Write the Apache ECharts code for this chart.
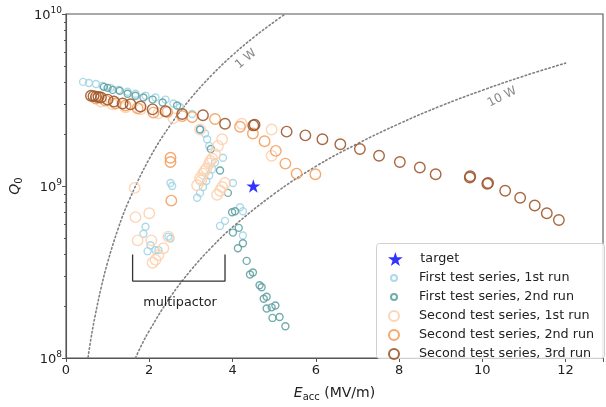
<!DOCTYPE html>
<html><head><meta charset="utf-8">
<script src="https://cdn.jsdelivr.net/npm/echarts@6/dist/echarts.min.js"></script>
<style>html,body{margin:0;padding:0;background:#fff}#c{width:606px;height:407px}</style>
</head><body><div id="c"></div><script>
// ---- data ----
const targetE = [4.5];
const targetQ = [1.0e9];

const s1r1E = [0.41,0.55,0.72,0.88,1.07,1.26,1.48,1.67,1.91,2.15,2.39,2.58,2.74,3.03,3.22,3.34,3.39,3.44,3.15,3.22,3.29,3.37,3.44,3.51,3.58,3.77,4.01,3.70,3.82,4.18,4.25,2.51,2.55,1.91,1.86,2.03,1.96,2.15,2.22,2.46,2.51,4.25];
const s1r1Q = [4.03e9,3.97e9,3.92e9,3.82e9,3.72e9,3.62e9,3.53e9,3.44e9,3.35e9,3.27e9,3.18e9,3.02e9,2.87e9,2.62e9,2.13e9,2.02e9,1.87e9,1.71e9,8.55e8,9.12e8,9.86e8,1.07e9,1.15e9,1.25e9,1.37e9,1.46e9,1.04e9,5.86e8,6.27e8,7.52e8,7.13e8,1.04e9,1.0e9,5.79e8,5.28e8,4.52e8,4.18e8,4.24e8,4.24e8,5.08e8,4.95e8,5.15e8];

const s1r2E = [0.91,1.00,1.12,1.29,1.48,1.67,1.86,2.08,2.32,2.67,3.22,3.48,3.70,3.89,3.99,4.06,4.01,4.15,4.25,4.13,4.34,4.42,4.49,4.65,4.70,4.75,4.82,4.82,4.94,5.03,4.96,5.13,5.27];
const s1r2Q = [3.77e9,3.72e9,3.62e9,3.58e9,3.44e9,3.35e9,3.27e9,3.18e9,3.06e9,2.94e9,2.13e9,1.64e9,1.23e9,9.12e8,7.03e8,7.13e8,5.36e8,5.71e8,4.65e8,4.35e8,3.67e8,3.06e8,3.14e8,2.65e8,2.58e8,2.21e8,2.27e8,1.94e8,1.97e8,2.02e8,1.71e8,1.73e8,1.53e8];

const s2r1E = [0.84,1.12,1.43,1.79,2.22,2.58,3.22,3.75,3.65,4.22,4.94,4.94,3.58,3.51,3.47,3.44,3.37,3.33,3.29,3.25,3.22,3.15,3.63,3.70,3.75,3.82,1.65,1.67,2.00,1.72,2.05,2.08,2.15,2.22,2.34,2.46];
const s2r1Q = [3.10e9,2.99e9,2.87e9,2.79e9,2.65e9,2.48e9,2.13e9,1.87e9,1.71e9,2.30e9,2.13e9,1.50e9,1.53e9,1.44e9,1.40e9,1.35e9,1.26e9,1.22e9,1.18e9,1.08e9,1.11e9,1.01e9,8.89e8,9.38e8,9.86e8,1.04e9,9.75e8,6.59e8,6.95e8,4.83e8,4.83e8,3.58e8,3.72e8,3.97e8,4.35e8,5.08e8];

const s2r2E = [0.72,0.95,1.19,1.43,1.72,2.10,2.43,2.79,3.03,3.58,4.18,4.49,4.77,5.04,5.27,5.54,5.99,2.51,2.51,2.53];
const s2r2Q = [3.22e9,3.14e9,3.02e9,2.94e9,2.83e9,2.67e9,2.69e9,2.55e9,2.52e9,2.45e9,2.21e9,2.02e9,1.82e9,1.60e9,1.35e9,1.18e9,1.17e9,1.46e9,1.38e9,8.22e8];

const s2r3E = [0.60,0.66,0.72,0.78,0.84,1.00,1.15,1.36,1.55,1.79,2.08,2.39,2.79,3.29,3.82,4.50,4.53,5.30,5.75,6.16,6.59,7.06,7.52,8.02,8.50,8.88,9.70,9.71,10.12,10.14,10.55,10.91,11.26,11.55,11.84];
const s2r3Q = [3.35e9,3.33e9,3.31e9,3.29e9,3.27e9,3.18e9,3.10e9,3.02e9,2.99e9,2.90e9,2.79e9,2.72e9,2.62e9,2.58e9,2.30e9,2.25e9,2.27e9,2.07e9,1.97e9,1.87e9,1.75e9,1.64e9,1.50e9,1.38e9,1.28e9,1.17e9,1.12e9,1.14e9,1.03e9,1.04e9,9.38e8,8.55e8,7.71e8,6.95e8,6.34e8];

// dissipated-power guide lines
const p1wE = [0.53,0.6,0.7,0.85,1.0,1.25,1.5,2.0,2.5,3.0,3.5,4.0,4.5,5.0,5.27];
const p1wQ = [1.01e8,1.30e8,1.76e8,2.6e8,3.6e8,5.63e8,8.1e8,1.44e9,2.25e9,3.24e9,4.41e9,5.76e9,7.29e9,9.0e9,1.0e10];
const p10wE = [1.67,1.8,2.0,2.5,3.0,3.5,4.0,5.0,6.0,7.0,8.0,9.0,10.0,11.0,12.0];
const p10wQ = [1.0e8,1.17e8,1.44e8,2.25e8,3.24e8,4.41e8,5.76e8,9.0e8,1.3e9,1.76e9,2.3e9,2.92e9,3.6e9,4.36e9,5.18e9];

// multipactor bracket
const bracketE = [1.6,1.6,3.82,3.82];
const bracketQ = [4.0e8,2.8e8,2.8e8,4.0e8];

const xTicks = [0,2,4,6,8,10,12];
const yMinor = [2e8,3e8,4e8,5e8,6e8,7e8,8e8,9e8,2e9,3e9,4e9,5e9,6e9,7e9,8e9,9e9];

const names = ['target','First test series, 1st run','First test series, 2nd run','Second test series, 1st run','Second test series, 2nd run','Second test series, 3rd run'];
// ---------------------------------------

const zip = (a,b) => a.map((v,i)=>[v,b[i]]);
const FONT = 'DejaVu Sans';
const STAR = 'path://M50,0 L61.8,36.2 L100,36.2 L69.1,58.8 L80.9,95.1 L50,72.7 L19.1,95.1 L30.9,58.8 L0,36.2 L38.2,36.2 Z';

function circ(name, E, Q, color, size, op) {
  return {
    type:'scatter', name, data: zip(E,Q), symbol:'circle', symbolSize:size, symbolKeepAspect:true,
    itemStyle:{color:'rgba(0,0,0,0)', borderColor:color, borderWidth:1.4, opacity:op},
    emphasis:{disabled:true}, z:3
  };
}
const dotted = {color:'#808080', width:1.6, type:[1.5,2.6], cap:'round'};

const chart = echarts.init(document.getElementById('c'), null, {renderer:'canvas'});
const legendText = {fontFamily:FONT, fontSize:12.75, color:'#222', lineHeight:19};
const LL = 383;
chart.setOption({
  animation:false,
  textStyle:{fontFamily:FONT},
  grid:{left:65, right:1, top:14, bottom:39, show:true, borderColor:'#555', borderWidth:1.1, backgroundColor:'transparent'},
  xAxis:{type:'value', min:0, max:12.9, interval:2,
    axisLine:{lineStyle:{color:'#555', width:1.1}},
    axisTick:{inside:false, length:4, lineStyle:{color:'#555'}},
    axisLabel:{fontSize:13, color:'#222', margin:6, fontFamily:FONT, showMaxLabel:true,
      formatter:v => xTicks.includes(v) ? String(v) : ''},
    splitLine:{show:false},
    name:'{i|E}{s|acc}{n| (MV/m)}', nameLocation:'middle', nameGap:26,
    nameTextStyle:{rich:{
      i:{fontSize:14, fontStyle:'italic', fontFamily:FONT, color:'#222', lineHeight:18, verticalAlign:'middle'},
      s:{fontSize:10, fontFamily:FONT, color:'#222', lineHeight:10, verticalAlign:'bottom', padding:[0,0,0,0]},
      n:{fontSize:14, fontFamily:FONT, color:'#222', lineHeight:18, verticalAlign:'middle'}}}
  },
  yAxis:[{type:'log', logBase:10, min:1e8, max:1e10,
    axisLine:{show:true, lineStyle:{color:'#555', width:1.1}},
    axisTick:{show:true, inside:false, length:4, lineStyle:{color:'#555'}},
    axisLabel:{margin:4, formatter:v => '{b|10}{e|' + Math.round(Math.log10(v)) + '}',
      rich:{b:{fontSize:13, color:'#222', fontFamily:FONT, lineHeight:16, verticalAlign:'bottom'},
            e:{fontSize:9, color:'#222', fontFamily:FONT, lineHeight:9, verticalAlign:'top'}}},
    splitLine:{show:false},
    name:'{i|Q}{s|0}', nameLocation:'middle', nameGap:42, nameMoveOverlap:false,
    nameTextStyle:{rich:{
      i:{fontSize:14, fontStyle:'italic', fontFamily:FONT, color:'#222', lineHeight:18, verticalAlign:'middle'},
      s:{fontSize:10, fontFamily:FONT, color:'#222', lineHeight:10, verticalAlign:'bottom'}}}
  },{type:'log', logBase:10, min:1e8, max:1e10, position:'left',
    axisLine:{show:false}, axisLabel:{show:false}, splitLine:{show:false},
    axisTick:{show:true, inside:false, length:2, lineStyle:{color:'#555'}, customValues:yMinor}
  }],
  legend:[
    {orient:'vertical', left:LL, top:244.5, itemWidth:40, itemHeight:14, itemGap:0, data:[names[0]], textStyle:legendText, selectedMode:false},
    {orient:'vertical', left:LL+2, top:263.5, itemWidth:40, itemHeight:6, itemGap:0, data:[names[1],names[2]], textStyle:legendText, selectedMode:false},
    {orient:'vertical', left:LL, top:301.5, itemWidth:40, itemHeight:10, itemGap:0, data:[names[3],names[4],names[5]], textStyle:legendText, selectedMode:false}
  ],
  graphic:[
    {type:'rect', left:376, top:243, shape:{width:228, height:115, r:3}, style:{fill:'rgba(255,255,255,0.85)', stroke:'#d0d0d0', lineWidth:1}, z:3},
    {type:'text', x:180, y:303, style:{text:'multipactor', fontSize:12.75, fontFamily:FONT, fill:'#222', align:'center', verticalAlign:'middle'}, z:5},
    {type:'text', x:246, y:59, rotation:40*Math.PI/180, style:{text:'1 W', fontSize:12, fontFamily:FONT, fill:'#888', align:'center', verticalAlign:'middle'}, z:5},
    {type:'text', x:502, y:97, rotation:27*Math.PI/180, style:{text:'10 W', fontSize:12, fontFamily:FONT, fill:'#888', align:'center', verticalAlign:'middle'}, z:5}
  ],
  series:[
    {type:'line', name:'p1', data:zip(p1wE,p1wQ), smooth:0.4, showSymbol:false, symbol:'none', lineStyle:dotted, silent:true, z:1},
    {type:'line', name:'p10', data:zip(p10wE,p10wQ), smooth:0.4, showSymbol:false, symbol:'none', lineStyle:dotted, silent:true, z:1},
    {type:'line', name:'bracket', data:zip(bracketE,bracketQ), showSymbol:false, symbol:'none', lineStyle:{color:'#333', width:1.3}, silent:true, z:2},
    {type:'scatter', name:names[0], data:zip(targetE,targetQ), symbol:STAR, symbolSize:14, symbolKeepAspect:true, itemStyle:{color:'#0000ff'}, z:4},
    circ(names[1], s1r1E, s1r1Q, '#9fd3e4', 7, 0.85),
    circ(names[2], s1r2E, s1r2Q, '#5a9e9f', 7, 0.85),
    circ(names[3], s2r1E, s2r1Q, '#fdd2b0', 10.5, 0.9),
    circ(names[4], s2r2E, s2r2Q, '#f4a05e', 10.5, 0.9),
    circ(names[5], s2r3E, s2r3Q, '#a0582d', 10.5, 0.9)
  ]
});
</script></body></html>
